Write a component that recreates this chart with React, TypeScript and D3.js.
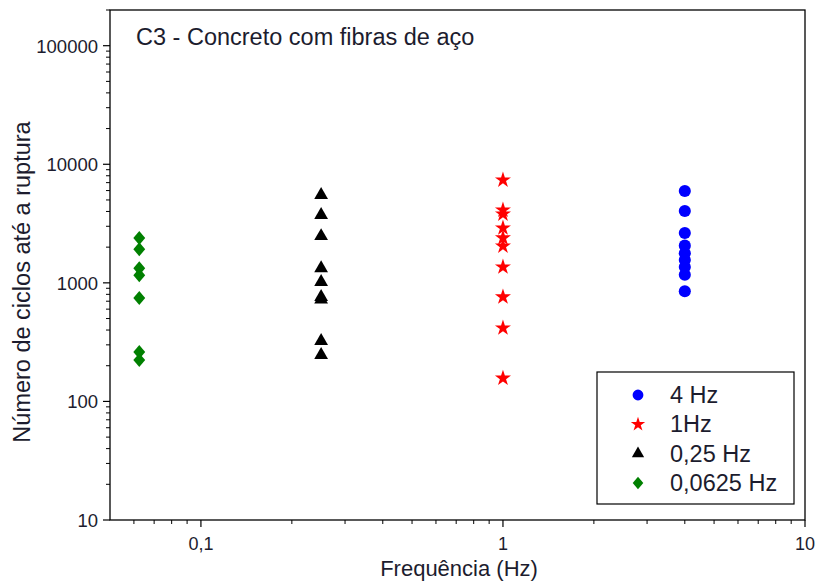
import React from "react";
import * as d3 from "d3";

const freqs = [4, 1, 0.25, 0.0625];
const seriesLabels = ["4 Hz", "1Hz", "0,25 Hz", "0,0625 Hz"];
const seriesColors = ["#0000ff", "#ff0000", "#000000", "#008000"];

const cycles4Hz = [5950, 4030, 2630, 2060, 1780, 1560, 1360, 1170, 850];
const cycles1Hz = [7360, 4110, 3800, 2900, 2390, 2040, 1360, 760, 416, 157];
const cycles025Hz = [5500, 3730, 2480, 1330, 1016, 760, 725, 323, 246];
const cycles00625Hz = [2390, 1920, 1330, 1160, 745, 261, 223];

const xTickValues = [0.1, 1, 10];
const xTickLabels = ["0,1", "1", "10"];
const yTickValues = [10, 100, 1000, 10000, 100000];
const yTickLabels = ["10", "100", "1000", "10000", "100000"];

const title = "C3 - Concreto com fibras de aço";
const xLabel = "Frequência (Hz)";
const yLabel = "Número de ciclos até a ruptura";

const W = 818, H = 581;
const left = 110, right = 805, top = 10, bottom = 520;
const font = "'Liberation Sans', Arial, sans-serif";
const textColor = "#1c1c2e";

const diamond = {
  draw(ctx: any, size: number) {
    const h = Math.sqrt(size) * 0.95;
    const w = h * 0.85;
    ctx.moveTo(0, -h);
    ctx.lineTo(w, 0);
    ctx.lineTo(0, h);
    ctx.lineTo(-w, 0);
    ctx.closePath();
  },
};

export default function App() {
  const x = d3.scaleLog().domain([0.05, 10]).range([left, right]);
  const y = d3.scaleLog().domain([10, 200000]).range([bottom, top]);

  const allSeries = [cycles4Hz, cycles1Hz, cycles025Hz, cycles00625Hz];
  const symbolTypes: any[] = [d3.symbolCircle, d3.symbolStar, d3.symbolTriangle, diamond];
  const symbolSizes = [115, 80, 82, 54];
  const paths = symbolTypes.map((t, i) => d3.symbol().type(t).size(symbolSizes[i])() as string);

  const xMinor: number[] = [];
  [0.01, 0.1, 1].forEach((d) => {
    for (let k = 2; k <= 9; k++) {
      const v = d * k;
      if (v > 0.05 && v < 10) xMinor.push(v);
    }
  });
  const yMinor: number[] = [];
  [10, 100, 1000, 10000, 100000].forEach((d) => {
    for (let k = 2; k <= 9; k++) {
      const v = d * k;
      if (v <= 200000) yMinor.push(v);
    }
  });

  return (
    <svg width={W} height={H} style={{ position: "absolute", left: 0, top: 0 }}>
      <rect x={0} y={0} width={W} height={H} fill="#fff" />
      <rect x={left} y={top} width={right - left} height={bottom - top} fill="none" stroke="#000" strokeWidth={1.3} />
      {xTickValues.map((v, i) => (
        <g key={"xt" + i}>
          <line x1={x(v)} x2={x(v)} y1={bottom} y2={bottom + 7} stroke="#000" strokeWidth={1.2} />
          <text x={x(v)} y={bottom + 30} textAnchor="middle" fontFamily={font} fontSize={18} fill={textColor}>
            {xTickLabels[i]}
          </text>
        </g>
      ))}
      {xMinor.map((v, i) => (
        <line key={"xm" + i} x1={x(v)} x2={x(v)} y1={bottom} y2={bottom + 4} stroke="#000" strokeWidth={1} />
      ))}
      {yTickValues.map((v, i) => (
        <g key={"yt" + i}>
          <line x1={left - 7} x2={left} y1={y(v)} y2={y(v)} stroke="#000" strokeWidth={1.2} />
          <text x={left - 12} y={y(v) + 7} textAnchor="end" fontFamily={font} fontSize={18.5} fill={textColor}>
            {yTickLabels[i]}
          </text>
        </g>
      ))}
      {yMinor.map((v, i) => (
        <line key={"ym" + i} x1={left - 4} x2={left} y1={y(v)} y2={y(v)} stroke="#000" strokeWidth={1} />
      ))}
      <text x={459} y={576} textAnchor="middle" fontFamily={font} fontSize={22} fill={textColor}>
        {xLabel}
      </text>
      <text
        transform={`translate(30, 282) rotate(-90)`}
        textAnchor="middle"
        fontFamily={font}
        fontSize={23.5}
        fill={textColor}
      >
        {yLabel}
      </text>
      <text x={136} y={45} fontFamily={font} fontSize={23.5} fill={textColor}>
        {title}
      </text>
      {allSeries.map((vals, si) =>
        vals.map((v, j) => (
          <path
            key={"p" + si + "-" + j}
            d={paths[si]}
            transform={`translate(${x(freqs[si])}, ${y(v)})`}
            fill={seriesColors[si]}
          />
        ))
      )}
      <rect x={597} y={372} width={197} height={132} fill="#fff" stroke="#000" strokeWidth={1.2} />
      {seriesLabels.map((lab, i) => (
        <g key={"lg" + i} transform={`translate(0, ${395 + i * 29.3})`}>
          <path
            d={d3.symbol().type(symbolTypes[i]).size(symbolSizes[i] * 0.8)() as string}
            transform="translate(638, 0)"
            fill={seriesColors[i]}
          />
          <text x={670} y={8} fontFamily={font} fontSize={23.5} fill={textColor}>
            {lab}
          </text>
        </g>
      ))}
    </svg>
  );
}
